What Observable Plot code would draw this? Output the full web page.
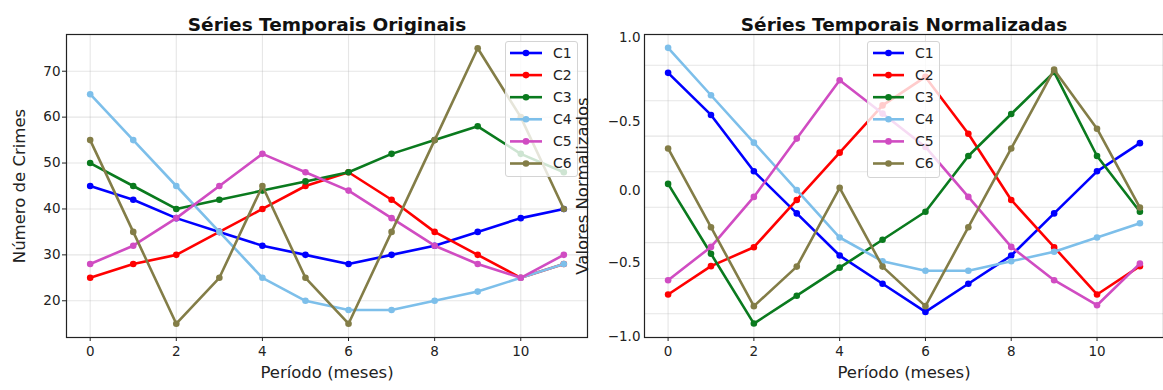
<!DOCTYPE html>
<html>
<head>
<meta charset="utf-8">
<script src="https://cdn.jsdelivr.net/npm/d3@7"></script>
<script src="https://cdn.jsdelivr.net/npm/@observablehq/plot@0.6"></script>
<style>
  body { margin: 0; background: #fff; }
  #wrap { position: relative; width: 1163px; height: 390px; overflow: hidden; font-family: "DejaVu Sans", sans-serif; }
  .legend { position: absolute; background: rgba(255,255,255,0.8); border: 1px solid #d4d4d4; border-radius: 3px; box-sizing: border-box; }
  .legend svg { display: block; }
</style>
</head>
<body>
<div id="wrap"></div>
<script>
// ---------- data ----------
const periods = [0, 1, 2, 3, 4, 5, 6, 7, 8, 9, 10, 11];
const seriesNames = ["C1", "C2", "C3", "C4", "C5", "C6"];
const seriesColors = ["#0000ff", "#ff0000", "#0a7a1e", "#7dbfea", "#d04cc2", "#837d47"];

const origC1 = [45, 42, 38, 35, 32, 30, 28, 30, 32, 35, 38, 40];
const origC2 = [25, 28, 30, 35, 40, 45, 48, 42, 35, 30, 25, 28];
const origC3 = [50, 45, 40, 42, 44, 46, 48, 52, 55, 58, 52, 48];
const origC4 = [65, 55, 45, 35, 25, 20, 18, 18, 20, 22, 25, 28];
const origC5 = [28, 32, 38, 45, 52, 48, 44, 38, 32, 28, 25, 30];
const origC6 = [55, 35, 15, 25, 45, 25, 15, 35, 55, 75, 60, 40];

const normC1 = [0.747, 0.469, 0.097, -0.181, -0.459, -0.645, -0.831, -0.645, -0.459, -0.181, 0.097, 0.283];
const normC2 = [-0.716, -0.529, -0.404, -0.092, 0.220, 0.532, 0.720, 0.345, -0.092, -0.404, -0.716, -0.529];
const normC3 = [0.014, -0.447, -0.908, -0.724, -0.539, -0.355, -0.170, 0.198, 0.475, 0.752, 0.198, -0.170];
const normC4 = [0.912, 0.599, 0.286, -0.027, -0.340, -0.497, -0.559, -0.559, -0.497, -0.434, -0.340, -0.246];
const normC5 = [-0.622, -0.402, -0.072, 0.313, 0.698, 0.478, 0.258, -0.072, -0.402, -0.622, -0.787, -0.512];
const normC6 = [0.248, -0.272, -0.793, -0.532, -0.012, -0.532, -0.793, -0.272, 0.248, 0.768, 0.378, -0.142];

const xTicks = [0, 2, 4, 6, 8, 10];
const leftYTicks = [20, 30, 40, 50, 60, 70];
const rightYTickValues = [0.978, 0.423, -0.028, -0.509, -0.996];
const rightYTickLabels = ["1.0", "\u22120.5", "0.0", "\u22120.5", "\u22121.0"];
const rightGridY = [0.797, 0.563, 0.329, 0.094, -0.140, -0.374, -0.611, -0.843];

const leftTitle = "Séries Temporais Originais";
const rightTitle = "Séries Temporais Normalizadas";
const xLabel = "Período (meses)";
const leftYLabel = "Número de Crimes";
const rightYLabel = "Valores Normalizados";

// ---------- build tables ----------
const origSeries = [origC1, origC2, origC3, origC4, origC5, origC6];
const normSeries = [normC1, normC2, normC3, normC4, normC5, normC6];
function tidy(list) {
  return list.flatMap((vals, s) => vals.map((v, i) => ({series: seriesNames[s], period: periods[i], value: v})));
}
const origRows = tidy(origSeries);
const normRows = tidy(normSeries);

function seriesMarks(rows) {
  return seriesNames.flatMap(name => {
    const sub = rows.filter(r => r.series === name);
    return [
      Plot.line(sub, {x: "period", y: "value", stroke: "series", strokeWidth: 2.6}),
      Plot.dot(sub, {x: "period", y: "value", fill: "series", r: 3.3})
    ];
  });
}

function labelMarks(title, ylab, ylabDx) {
  return [
    Plot.text([title], {text: d => d, frameAnchor: "top", dy: -17, fontSize: 18.5, fontWeight: "bold", fill: "#111"}),
    Plot.text([xLabel], {text: d => d, frameAnchor: "bottom", dy: 40, fontSize: 16.5, fill: "#222"}),
    Plot.text([ylab], {text: d => d, frameAnchor: "left", textAnchor: "middle", dx: ylabDx, rotate: -90, fontSize: 16.5, fill: "#222"})
  ];
}

const W = 1163, H = 390;
const baseStyle = {position: "absolute", left: "0px", top: "0px", background: "transparent", overflow: "visible",
  fontFamily: "DejaVu Sans, sans-serif", fontSize: "13.5px", color: "#222"};
const gridStyle = {stroke: "#b0b0b0", strokeOpacity: 0.32, strokeWidth: 1.1};

const leftPlot = Plot.plot({
  width: W, height: H,
  marginLeft: 66, marginRight: W - 587, marginTop: 34, marginBottom: H - 337,
  style: baseStyle,
  x: {domain: [-0.55, 11.55], ticks: xTicks, tickSize: 4, tickPadding: 5, label: null},
  y: {domain: [12, 78], ticks: leftYTicks, tickSize: 4, tickPadding: 2, label: null},
  color: {domain: seriesNames, range: seriesColors},
  marks: [
    Plot.gridX(xTicks, gridStyle),
    Plot.gridY(leftYTicks, gridStyle),
    ...seriesMarks(origRows),
    Plot.frame({stroke: "#222", strokeWidth: 1.2}),
    ...labelMarks(leftTitle, leftYLabel, -47)
  ]
});

const rightPlot = Plot.plot({
  width: W, height: H,
  marginLeft: 644, marginRight: 0, marginTop: 34, marginBottom: H - 337,
  style: baseStyle,
  x: {domain: [-0.55, 11.55], ticks: xTicks, tickSize: 4, tickPadding: 5, label: null},
  y: {domain: [-1, 1], ticks: rightYTickValues, tickSize: 0, tickPadding: 4,
      tickFormat: d => rightYTickLabels[rightYTickValues.indexOf(d)], label: null},
  color: {domain: seriesNames, range: seriesColors},
  marks: [
    Plot.gridX(xTicks, gridStyle),
    Plot.gridY(rightGridY, gridStyle),
    ...seriesMarks(normRows),
    Plot.frame({stroke: "#222", strokeWidth: 1.2}),
    ...labelMarks(rightTitle, rightYLabel, -62)
  ]
});

const wrap = document.getElementById("wrap");

// ---------- legends ----------
function makeLegend(left, top, w, h, x0, x1, tx) {
  const div = d3.create("div").attr("class", "legend")
    .style("left", left + "px").style("top", top + "px")
    .style("width", w + "px").style("height", h + "px");
  const svg = div.append("svg").attr("width", w - 2).attr("height", h - 2);
  seriesNames.forEach((name, i) => {
    const y = 11 + 22.1 * i;
    const g = svg.append("g");
    g.append("line").attr("x1", x0).attr("x2", x1).attr("y1", y).attr("y2", y)
      .attr("stroke", seriesColors[i]).attr("stroke-width", 2.6);
    g.append("circle").attr("cx", (x0 + x1) / 2).attr("cy", y).attr("r", 3.3).attr("fill", seriesColors[i]);
    g.append("text").attr("x", tx).attr("y", y).attr("dy", "0.35em")
      .attr("font-family", "DejaVu Sans, sans-serif").attr("font-size", 14).attr("fill", "#222").text(name);
  });
  return div.node();
}

wrap.appendChild(leftPlot);
wrap.appendChild(makeLegend(505, 41, 73, 136, 4, 36, 47));
wrap.appendChild(rightPlot);
wrap.appendChild(makeLegend(867, 41, 73, 137, 5, 36, 47));
</script>
</body>
</html>
